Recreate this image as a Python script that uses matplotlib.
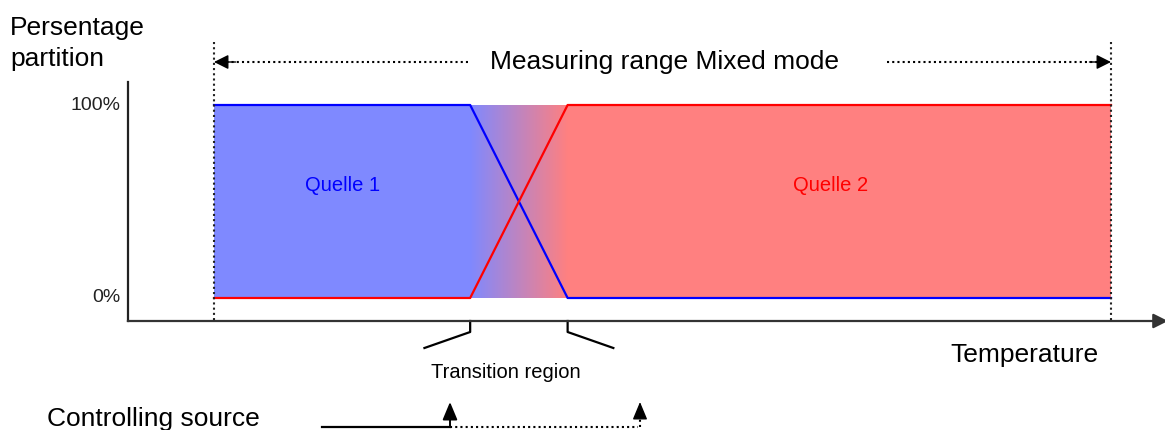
import numpy as np
import matplotlib
matplotlib.use("Agg")
import matplotlib.pyplot as plt
from matplotlib.colors import LinearSegmentedColormap

plt.rcParams['font.family'] = ['Liberation Sans', 'DejaVu Sans']

# data (temperature in arbitrary units, share in percent)
measuring_range = [10, 114]
transition = [39.7, 51]
temps = [10, 39.7, 51, 114]
share_q1 = [100, 100, 0, 0]
share_q2 = [0, 0, 100, 100]
y_ticks = [0, 100]
y_tick_labels = ["0%", "100%"]

# colours
blue_fill = '#7f89ff'
red_fill = '#ff8080'
blue_line = '#0000ff'
red_line = '#ff0000'

# pixel <-> data mapping for the full-figure axes
X0, SX = 127.75, 8.625   # pixel of T=0, px per unit
Y0, SY = 298.0, 1.93     # pixel of 0%, px per percent
W, H = 1165, 430

def tx(p):
	return (p - X0) / SX

def py(p):
	return (Y0 - p) / SY

fig = plt.figure(figsize=(W / 100, H / 100), dpi=100)
ax = fig.add_axes([0, 0, 1, 1])
ax.set_xlim(tx(0), tx(W))
ax.set_ylim(py(H), py(0))
ax.axis('off')

# filled areas
x = np.array(temps)
ax.fill_between([temps[0], transition[0]], 0, 100, color=blue_fill, lw=0, zorder=1)
ax.fill_between([transition[1], temps[-1]], 0, 100, color=red_fill, lw=0, zorder=1)

# gradient in the transition region
cmap = LinearSegmentedColormap.from_list('trans', [blue_fill, red_fill])
grad = np.linspace(0, 1, 256).reshape(1, -1)
ax.imshow(grad, cmap=cmap, aspect='auto', extent=[transition[0], transition[1], 0, 100],
	interpolation='bilinear', zorder=1)

# share lines
ax.plot(x, share_q1, color=blue_line, lw=1.6, zorder=3)
ax.plot(x, share_q2, color=red_line, lw=1.6, zorder=3)

# axes lines
y_axis = py(321)
ax.plot([0, 0], [py(82), y_axis], color='#222222', lw=1.6, zorder=2)
ax.annotate('', xy=(tx(W + 3), y_axis), xytext=(0, y_axis), annotation_clip=False,
	arrowprops=dict(arrowstyle='-|>', color='#333333', lw=1.6, mutation_scale=22,
		shrinkA=0, shrinkB=0))

for val, lab in zip(y_ticks, y_tick_labels):
	ax.text(tx(120), val, lab, ha='right', va='center', fontsize=14, color='#222222')

# measuring range markers
for t in measuring_range:
	ax.plot([t, t], [py(42), y_axis], color='#222222', lw=1.5, ls=(0, (1, 1.5)), zorder=4)

top = py(62)
ax.plot([tx(468), measuring_range[0] + 0.5], [top, top], color='k', lw=1.5, ls=(0, (1, 1.5)))
ax.plot([tx(887), measuring_range[1] - 0.5], [top, top], color='k', lw=1.5, ls=(0, (1, 1.5)))
ax.annotate('', xy=(measuring_range[0], top), xytext=(measuring_range[0] + 2.5, top),
	arrowprops=dict(arrowstyle='-|>', color='k', lw=1, mutation_scale=22, shrinkA=0, shrinkB=0))
ax.annotate('', xy=(measuring_range[1], top), xytext=(measuring_range[1] - 2.5, top),
	arrowprops=dict(arrowstyle='-|>', color='k', lw=1, mutation_scale=22, shrinkA=0, shrinkB=0))
ax.text(tx(665), top, "Measuring range Mixed mode", ha='center', va='center', fontsize=19)

# labels
ax.text(tx(10), py(16), "Persentage\npartition", ha='left', va='top', fontsize=19, linespacing=1.35)
ax.text((temps[0] + transition[0]) / 2, 58.5, "Quelle 1", ha='center', va='center',
	fontsize=14.5, color=blue_line)
ax.text(81.5, 58.5, "Quelle 2", ha='center', va='center', fontsize=14.5, color=red_line)
ax.text(tx(1024), py(355), "Temperature", ha='center', va='center', fontsize=19)

# transition region brackets
b1, b2 = py(332), py(348)
ax.plot([transition[0], transition[0], transition[0] - 5.3], [y_axis, b1, b2], color='k', lw=1.6)
ax.plot([transition[1], transition[1], transition[1] + 5.3], [y_axis, b1, b2], color='k', lw=1.6)
ax.text(tx(506), py(373), "Transition region", ha='center', va='center', fontsize=14.5)

# controlling source
yb = py(427)
ax.text(tx(47), py(426), "Controlling source", ha='left', va='baseline', fontsize=19)
ax.plot([tx(322), tx(450)], [yb, yb], color='k', lw=1.6)
ax.plot([tx(450), tx(638)], [yb, yb], color='k', lw=1.5, ls=(0, (1, 1.5)))
ax.annotate('', xy=(tx(450), py(402)), xytext=(tx(450), yb),
	arrowprops=dict(arrowstyle='-|>,head_length=0.6,head_width=0.25', color='k', lw=1.4,
		mutation_scale=18, shrinkA=0, shrinkB=0))
ax.plot([tx(640), tx(640)], [yb, py(412)], color='k', lw=1.5, ls=(0, (1, 1.5)))
ax.annotate('', xy=(tx(640), py(402)), xytext=(tx(640), py(414)),
	arrowprops=dict(arrowstyle='-|>,head_length=0.6,head_width=0.25', color='k', lw=1,
		mutation_scale=18, shrinkA=0, shrinkB=0))

fig.savefig('out.png', dpi=100)
